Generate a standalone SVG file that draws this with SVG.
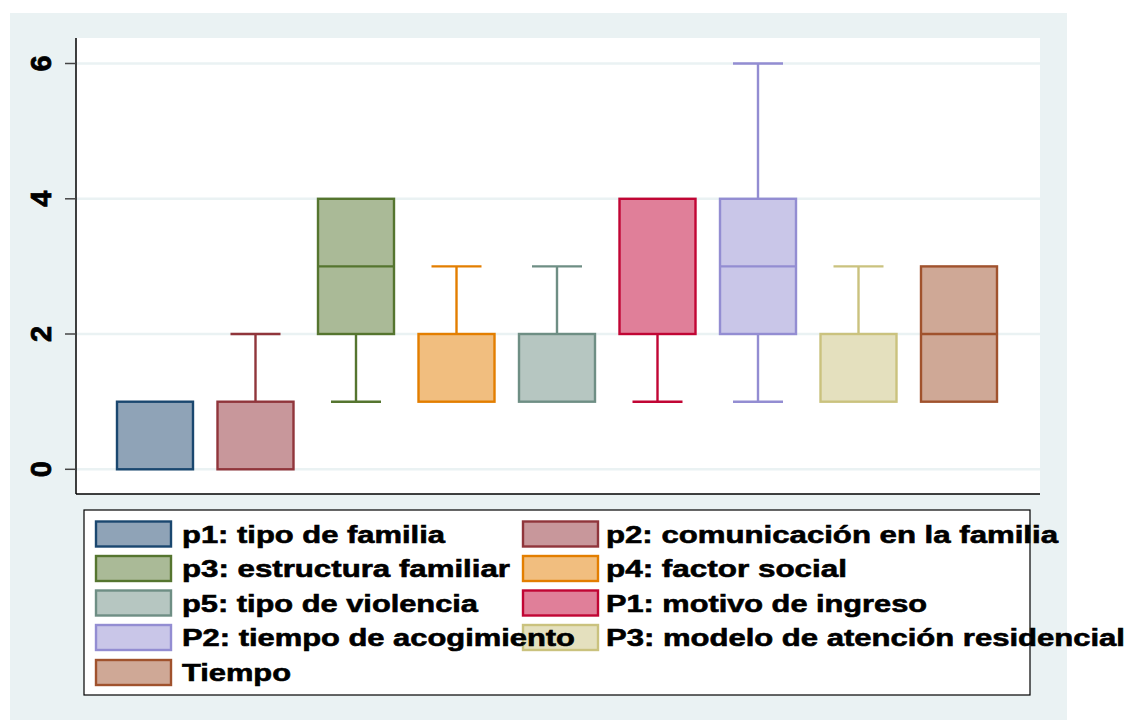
<svg xmlns="http://www.w3.org/2000/svg" width="1135" height="720" viewBox="0 0 1135 720">
<style>
.grid{stroke:#EAF2F3;stroke-width:2.5;fill:none}
.tick{stroke:#444;stroke-width:1.5}
.ax{stroke:#000;stroke-width:1.5;fill:none}
.ylab{font-family:"Liberation Sans",Arial,sans-serif;font-weight:bold;font-size:29px;fill:#000;stroke:#000;stroke-width:0.8;text-anchor:middle}
.lt{font-family:"Liberation Sans",Arial,sans-serif;font-weight:bold;font-size:24px;fill:#000;stroke:#000;stroke-width:0.6}
.b rect,.b line,.sw{stroke-width:2.4}
.c1{stroke:#1A476F;fill:#8FA3B7}
.c2{stroke:#90353B;fill:#C8979B}
.c3{stroke:#55752F;fill:#AABA97}
.c4{stroke:#E37E00;fill:#F1BE7F}
.c5{stroke:#6E8E84;fill:#B6C6C1}
.c6{stroke:#C10534;fill:#E07F99}
.c7{stroke:#938DD2;fill:#C9C6E8}
.c8{stroke:#CAC27E;fill:#E4E0BE}
.c9{stroke:#A0522D;fill:#CFA896}
</style>
<rect x="10" y="13" width="1057" height="707" fill="#EAF2F3"/>
<rect x="76" y="38" width="964" height="456" fill="#FFFFFF"/>
<g id="grid">
<line class="grid" x1="76" y1="63.5" x2="1040" y2="63.5"/>
<line class="grid" x1="76" y1="198.8" x2="1040" y2="198.8"/>
<line class="grid" x1="76" y1="334" x2="1040" y2="334"/>
<line class="grid" x1="76" y1="469.3" x2="1040" y2="469.3"/>
</g>
<g id="axes">
<line class="ax" x1="76" y1="38" x2="76" y2="494"/>
<line class="ax" x1="76" y1="494" x2="1040" y2="494"/>
<line class="tick" x1="65" y1="63.5" x2="76" y2="63.5"/>
<line class="tick" x1="65" y1="198.8" x2="76" y2="198.8"/>
<line class="tick" x1="65" y1="334" x2="76" y2="334"/>
<line class="tick" x1="65" y1="469.3" x2="76" y2="469.3"/>
<text class="ylab" transform="translate(51,63.5) rotate(-90)">6</text>
<text class="ylab" transform="translate(51,198.8) rotate(-90)">4</text>
<text class="ylab" transform="translate(51,334) rotate(-90)">2</text>
<text class="ylab" transform="translate(51,469.3) rotate(-90)">0</text>
</g>
<g id="box1" class="b c1">
<rect x="117" y="401.7" width="76" height="67.6"/>
</g>
<g id="box2" class="b c2">
<line x1="255.5" y1="334" x2="255.5" y2="401.7"/>
<line x1="230.5" y1="334" x2="280.5" y2="334"/>
<rect x="217.5" y="401.7" width="76" height="67.6"/>
</g>
<g id="box3" class="b c3">
<line x1="356" y1="334" x2="356" y2="401.7"/>
<line x1="331" y1="401.7" x2="381" y2="401.7"/>
<rect x="318" y="198.8" width="76" height="135.2"/>
<line x1="318" y1="266.4" x2="394" y2="266.4"/>
</g>
<g id="box4" class="b c4">
<line x1="456.5" y1="266.4" x2="456.5" y2="334"/>
<line x1="431.5" y1="266.4" x2="481.5" y2="266.4"/>
<rect x="418.5" y="334" width="76" height="67.7"/>
</g>
<g id="box5" class="b c5">
<line x1="557" y1="266.4" x2="557" y2="334"/>
<line x1="532" y1="266.4" x2="582" y2="266.4"/>
<rect x="519" y="334" width="76" height="67.7"/>
</g>
<g id="box6" class="b c6">
<line x1="657.5" y1="334" x2="657.5" y2="401.7"/>
<line x1="632.5" y1="401.7" x2="682.5" y2="401.7"/>
<rect x="619.5" y="198.8" width="76" height="135.2"/>
</g>
<g id="box7" class="b c7">
<line x1="758" y1="63.5" x2="758" y2="198.8"/>
<line x1="733" y1="63.5" x2="783" y2="63.5"/>
<line x1="758" y1="334" x2="758" y2="401.7"/>
<line x1="733" y1="401.7" x2="783" y2="401.7"/>
<rect x="720" y="198.8" width="76" height="135.2"/>
<line x1="720" y1="266.4" x2="796" y2="266.4"/>
</g>
<g id="box8" class="b c8">
<line x1="858.5" y1="266.4" x2="858.5" y2="334"/>
<line x1="833.5" y1="266.4" x2="883.5" y2="266.4"/>
<rect x="820.5" y="334" width="76" height="67.7"/>
</g>
<g id="box9" class="b c9">
<rect x="921" y="266.4" width="76" height="135.3"/>
<line x1="921" y1="334" x2="997" y2="334"/>
</g>
<g id="legend">
<rect x="84" y="510" width="946" height="185" fill="#FFFFFF" stroke="#000" stroke-width="1.2"/>
<rect class="sw c1" x="96" y="521.5" width="75" height="25"/>
<rect class="sw c3" x="96" y="556" width="75" height="25"/>
<rect class="sw c5" x="96" y="590.5" width="75" height="25"/>
<rect class="sw c7" x="96" y="625" width="75" height="25"/>
<rect class="sw c9" x="96" y="660" width="75" height="25"/>
<rect class="sw c2" x="523" y="521.5" width="75" height="25"/>
<rect class="sw c4" x="523" y="556" width="75" height="25"/>
<rect class="sw c6" x="523" y="590.5" width="75" height="25"/>
<rect class="sw c8" x="523" y="625" width="75" height="25"/>
<text class="lt" x="182" y="542.5" textLength="263" lengthAdjust="spacingAndGlyphs">p1: tipo de familia</text>
<text class="lt" x="182" y="577" textLength="328" lengthAdjust="spacingAndGlyphs">p3: estructura familiar</text>
<text class="lt" x="182" y="611.5" textLength="296" lengthAdjust="spacingAndGlyphs">p5: tipo de violencia</text>
<text class="lt" x="182" y="646" textLength="393" lengthAdjust="spacingAndGlyphs">P2: tiempo de acogimiento</text>
<text class="lt" x="182" y="681" textLength="109" lengthAdjust="spacingAndGlyphs">Tiempo</text>
<text class="lt" x="606" y="542.5" textLength="452" lengthAdjust="spacingAndGlyphs">p2: comunicación en la familia</text>
<text class="lt" x="606" y="577" textLength="241" lengthAdjust="spacingAndGlyphs">p4: factor social</text>
<text class="lt" x="606" y="611.5" textLength="321" lengthAdjust="spacingAndGlyphs">P1: motivo de ingreso</text>
<text class="lt" x="606" y="646" textLength="519" lengthAdjust="spacingAndGlyphs">P3: modelo de atención residencial</text>
</g>
</svg>
